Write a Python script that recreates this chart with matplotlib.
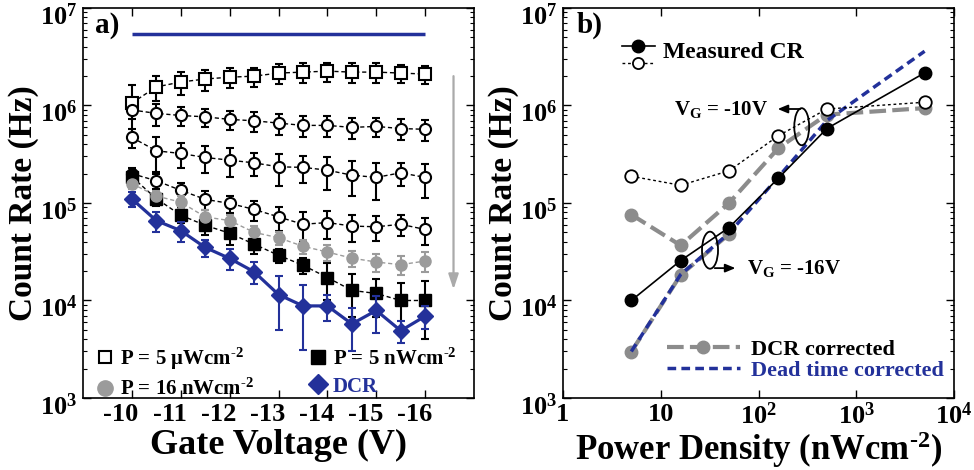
import numpy as np
import matplotlib
matplotlib.use("Agg")
import matplotlib.pyplot as plt
import matplotlib.transforms as mtransforms
from matplotlib.lines import Line2D
from matplotlib.patches import Ellipse

# ---- panel a) count rate vs gate voltage ----
v_gate = [-10, -10.5, -11, -11.5, -12, -12.5, -13, -13.5, -14, -14.5, -15, -15.5, -16]
v_ticks = [-10, -11, -12, -13, -14, -15, -16]
v_ticklabels = ["-10", "-11", "-12", "-13", "-14", "-15", "-16"]

cr_5000 = [1.06e6, 1.55e6, 1.74e6, 1.87e6, 1.95e6, 2.0e6, 2.15e6, 2.2e6, 2.25e6, 2.2e6, 2.2e6, 2.15e6, 2.1e6]
err_5000 = [5.5e5, 4.5e5, 4.5e5, 4.5e5, 4.5e5, 4.5e5, 5e5, 5e5, 5e5, 5e5, 5e5, 4.5e5, 4.5e5]
cr_500 = [9.0e5, 8.3e5, 7.9e5, 7.65e5, 7.2e5, 6.97e5, 6.6e5, 6.25e5, 6.25e5, 5.96e5, 6.1e5, 5.8e5, 5.7e5]
err_500 = [1.8e5, 2.1e5, 1.75e5, 1.6e5, 1.6e5, 1.6e5, 1.65e5, 1.5e5, 1.5e5, 1.4e5, 1.4e5, 1.4e5, 1.35e5]
cr_160 = [4.7e5, 3.43e5, 3.22e5, 2.93e5, 2.75e5, 2.58e5, 2.35e5, 2.32e5, 2.17e5, 1.93e5, 1.83e5, 2.04e5, 1.83e5]
err_160 = [1e5, 1.35e5, 0.93e5, 0.9e5, 0.92e5, 0.7e5, 0.86e5, 0.7e5, 0.8e5, 0.75e5, 0.75e5, 0.55e5, 0.7e5]
cr_50 = [2.0e5, 1.69e5, 1.35e5, 1.09e5, 9.9e4, 8.6e4, 7.2e4, 6.05e4, 6.3e4, 5.8e4, 5.7e4, 6.05e4, 5.35e4]
err_50 = [3e4, 3e4, 2.5e4, 2.5e4, 2e4, 2e4, 2e4, 2e4, 2e4, 1.8e4, 1.6e4, 1.5e4, 1.6e4]
cr_16 = [1.58e5, 1.18e5, 1.02e5, 7.2e4, 6.6e4, 5.0e4, 4.4e4, 3.6e4, 3.14e4, 2.72e4, 2.48e4, 2.33e4, 2.54e4]
err_16 = [2e4, 1.5e4, 1.5e4, 1.2e4, 1e4, 8e3, 7e3, 6e3, 6e3, 5e3, 5e3, 5e3, 6e3]
cr_5 = [1.85e5, 1.11e5, 7.5e4, 5.9e4, 4.9e4, 3.78e4, 2.91e4, 2.3e4, 1.72e4, 1.27e4, 1.18e4, 1.0e4, 1.0e4]
err_5 = [3e4, 1.8e4, 1.3e4, 1.2e4, 1.2e4, 8e3, 5e3, 4.5e3, 7e3, 6e3, 5e3, 5e3, 6e3]
dcr = [1.1e5, 6.6e4, 5.2e4, 3.5e4, 2.7e4, 1.97e4, 1.15e4, 8.8e3, 8.8e3, 5.75e3, 7.9e3, 4.9e3, 6.9e3]
err_dcr = [2e4, 1.5e4, 1.2e4, 7e3, 6.5e3, 5e3, 6.5e3, 5.7e3, 2.7e3, 2.7e3, 3.3e3, 1.2e3, 1.8e3]
top_level = 5.35e6

# ---- panel b) count rate vs power density ----
power = [5, 16, 50, 160, 500, 5000]
meas_16V = [1.0e4, 2.57e4, 5.6e4, 1.8e5, 5.8e5, 2.16e6]
meas_10V = [1.88e5, 1.52e5, 2.14e5, 4.9e5, 9.2e5, 1.08e6]
dcr_corr_10V = [7.6e4, 3.67e4, 1.0e5, 3.66e5, 8.06e5, 9.4e5]
dcr_corr_16V = [2.98e3, 1.83e4, 4.8e4]
dead_corr_16V = [3.0e3, 1.85e4, 4.9e4, 1.85e5, 7.0e5, 3.6e6]
p_ticks = [1, 10, 100, 1000, 10000]
p_ticklabels = ["1", "10", r"$\mathdefault{10^{2}}$", r"$\mathdefault{10^{3}}$", r"$\mathdefault{10^{4}}$"]

blue = "#23319a"
gray_a = "#9b9b9b"
gray_b = "#8c8c8c"
sup = r"$^{\text{-2}}$"

plt.rcParams["font.family"] = ["Liberation Serif", "DejaVu Serif"]
plt.rcParams["font.weight"] = "bold"
plt.rcParams["axes.labelweight"] = "bold"
plt.rcParams["mathtext.fontset"] = "custom"
plt.rcParams["mathtext.rm"] = "Liberation Serif:bold"
plt.rcParams["mathtext.it"] = "Liberation Serif:bold"
plt.rcParams["mathtext.bf"] = "Liberation Serif:bold"
plt.rcParams["mathtext.default"] = "rm"
plt.rcParams["axes.unicode_minus"] = False

fig = plt.figure(figsize=(9.74, 4.70), dpi=100)
axa = fig.add_axes([0.0852, 0.1532, 0.4015, 0.8298])
axb = fig.add_axes([0.578, 0.1532, 0.4015, 0.8298])

down = mtransforms.ScaledTranslation(0, -6 / 100, fig.dpi_scale_trans)
for ax in (axa, axb):
    ax.set_yscale("log")
    ax.set_ylim(1e3, 1e7)
    ax.tick_params(which="both", direction="in", top=True, right=True, labelsize=19)
    ax.tick_params(which="major", length=6, width=1)
    ax.tick_params(which="minor", length=3, width=0.8)
    ax.tick_params(axis="y", pad=4)
    for s in ax.spines.values():
        s.set_linewidth(1.2)
    ax.set_ylabel("Count Rate (Hz)", fontsize=24, labelpad=1)
    ax.set_yticks([1e3, 1e4, 1e5, 1e6, 1e7])
    for lab in ax.get_yticklabels():
        lab.set_transform(lab.get_transform() + down)

# panel a
dotted = dict(ls="--", dashes=(3, 2), lw=1, capsize=3, capthick=1.5, elinewidth=1.5, ms=8)
axa.errorbar(v_gate, cr_5000, yerr=err_5000, color="k", marker="s", mfc="white", mec="k", mew=1.5, zorder=3, **dotted)
axa.errorbar(v_gate, cr_500, yerr=err_500, color="k", marker="o", mfc="white", mec="k", mew=1.5, zorder=3, **dotted)
axa.errorbar(v_gate, cr_160, yerr=err_160, color="k", marker="o", mfc="white", mec="k", mew=1.5, zorder=3, **dotted)
axa.errorbar(v_gate, cr_50, yerr=err_50, color="k", marker="o", mfc="white", mec="k", mew=1.5, zorder=3, **dotted)
axa.errorbar(v_gate, cr_5, yerr=err_5, color="k", marker="s", mfc="k", mec="k", zorder=4, **dotted)
axa.errorbar(v_gate, cr_16, yerr=err_16, color=gray_a, marker="o", mfc=gray_a, mec=gray_a, zorder=4, **dotted)
axa.errorbar(v_gate, dcr, yerr=err_dcr, color=blue, marker="D", mfc=blue, mec=blue, ms=8, lw=2.3,
             capsize=3, capthick=1.5, elinewidth=1.5, zorder=5)
axa.hlines(top_level, v_gate[0], v_gate[-1], color=blue, lw=2.5)
axa.annotate("", xy=(-16.58, 1.3e4), xytext=(-16.58, 2.0e6),
             arrowprops=dict(arrowstyle="-|>,head_length=0.9,head_width=0.3", color="#aaaaaa", lw=1.6,
                             shrinkA=0, shrinkB=0))

axa.set_xlim(-9, -17)
axa.set_xticks(v_ticks)
axa.set_xticklabels(v_ticklabels)
shift = mtransforms.ScaledTranslation(-11 / 100, 0, fig.dpi_scale_trans)
for lab in axa.get_xticklabels():
    lab.set_transform(lab.get_transform() + shift)
axa.set_xlabel("Gate Voltage (V)", fontsize=26, labelpad=2)
axa.text(0.03, 0.955, "a)", transform=axa.transAxes, fontsize=21, va="center")

hl = [Line2D([], [], ls="none", marker="s", ms=9, mfc="white", mec="k", mew=1.5),
      Line2D([], [], ls="none", marker="o", ms=11, mfc=gray_a, mec=gray_a),
      Line2D([], [], ls="none", marker="s", ms=10, mfc="k", mec="k"),
      Line2D([], [], ls="none", marker="D", ms=10, mfc=blue, mec=blue)]
la = axa.legend(hl, [r"P = 5 $\mu$Wcm" + sup, "P = 16 nWcm" + sup, "P = 5 nWcm" + sup, "DCR"],
                ncol=2, loc="upper left", bbox_to_anchor=(0.035, 0.135), frameon=False, fontsize=15,
                handlelength=0.8, handletextpad=0.3, columnspacing=2.7, labelspacing=0.35, borderpad=0,
                borderaxespad=0)
la.get_texts()[3].set_color(blue)

# panel b
axb.set_xscale("log")
axb.set_xlim(1, 1e4)
axb.set_xticks(p_ticks)
axb.set_xticklabels(p_ticklabels)
axb.set_xlabel("Power Density (nWcm" + sup + ")", fontsize=25, labelpad=0)

axb.plot(power, meas_16V, color="k", lw=1.2, marker="o", ms=9, zorder=4)
axb.plot(power, meas_10V, color="k", lw=1, ls="--", dashes=(2, 2), marker="o", ms=9, mfc="white", mec="k",
         mew=1.3, zorder=4)
axb.plot(power, dcr_corr_10V, color=gray_b, lw=3, ls="--", dashes=(4, 1.5), marker="o", ms=9, zorder=2)
axb.plot(power[:3], dcr_corr_16V, color=gray_b, lw=3, ls="--", dashes=(4, 1.5), marker="o", ms=9, zorder=2)
axb.plot(power, dead_corr_16V, color=blue, lw=2.5, ls="--", dashes=(2.5, 1.5), zorder=3)

axb.add_patch(Ellipse((0.6105, 0.6956), 0.038, 0.095, transform=axb.transAxes, fill=False, lw=1.3, ec="k", zorder=6))
axb.add_patch(Ellipse((0.376, 0.379), 0.041, 0.095, transform=axb.transAxes, fill=False, lw=1.3, ec="k", zorder=6))
axb.annotate("", xy=(0.542, 0.741), xytext=(0.614, 0.741), xycoords="axes fraction",
             arrowprops=dict(arrowstyle="-|>,head_length=0.6,head_width=0.25", color="k", lw=1.3))
axb.annotate("", xy=(0.448, 0.333), xytext=(0.381, 0.333), xycoords="axes fraction",
             arrowprops=dict(arrowstyle="-|>,head_length=0.6,head_width=0.25", color="k", lw=1.3))
axb.text(0.524, 0.741, r"$\mathrm{V_G}$ = -10V", transform=axb.transAxes, ha="right", va="center", fontsize=15)
axb.text(0.471, 0.333, r"$\mathrm{V_G}$ = -16V", transform=axb.transAxes, ha="left", va="center", fontsize=15)
axb.text(0.035, 0.955, "b)", transform=axb.transAxes, fontsize=21, va="center")

h1 = [Line2D([], [], color="k", lw=1.2, marker="o", ms=9),
      Line2D([], [], color="k", lw=1, ls="--", dashes=(2, 2), marker="o", ms=8, mfc="white", mec="k", mew=1.3)]
lb1 = axb.legend(h1, ["", ""], loc="upper left", bbox_to_anchor=(0.151, 0.915), frameon=False, fontsize=11,
                 handlelength=2.15, handletextpad=0, labelspacing=0.2, borderpad=0, borderaxespad=0)
axb.add_artist(lb1)
axb.text(0.256, 0.885, "Measured CR", transform=axb.transAxes, ha="left", va="center", fontsize=17)

h2 = [Line2D([], [], color=gray_b, lw=3, ls="--", dashes=(4, 1.5), marker="o", ms=9),
      Line2D([], [], color=blue, lw=2.5, ls="--", dashes=(2.5, 1.5))]
lb2 = axb.legend(h2, ["DCR corrected", "Dead time corrected"], loc="upper left", bbox_to_anchor=(0.265, 0.15),
                 frameon=False, fontsize=16, handlelength=3.3, handletextpad=0.5, labelspacing=0.0, borderpad=0,
                 borderaxespad=0)
lb2.get_texts()[1].set_color(blue)

fig.savefig("out.png", dpi=100)
